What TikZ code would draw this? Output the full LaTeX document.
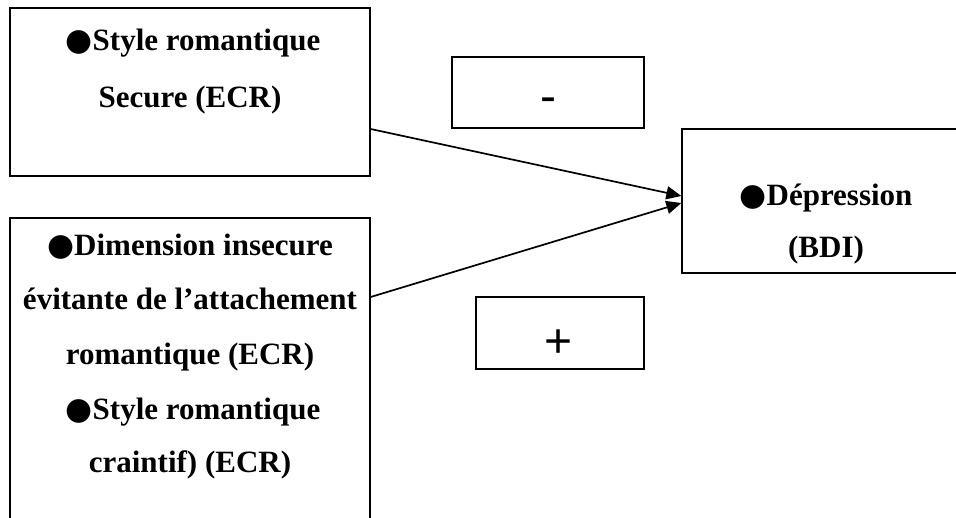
\documentclass[tikz,border=0pt]{standalone}
\usepackage{fontspec}
\setmainfont{Liberation Serif}
\newfontfamily\arialfont{Liberation Sans}
\newfontfamily\djvfont{DejaVu Sans}
\newcommand\bdot{{\djvfont\fontsize{31}{31}\selectfont ●}}
\usetikzlibrary{arrows.meta}
\begin{document}
\begin{tikzpicture}[x=1pt,y=-1pt,
  box/.style={draw=black,line width=1.3pt,rectangle,inner sep=0pt},
  lbl/.style={anchor=base,inner sep=0pt,font=\fontsize{31}{36}\selectfont\bfseries},
  sign/.style={anchor=base,inner sep=0pt,font=\arialfont\fontsize{48}{56}\selectfont},
  conn/.style={line width=1.7pt,-{Triangle[length=15pt,width=13pt]}}]
\useasboundingbox (0,0) rectangle (956,517);
\clip (0,0) rectangle (956,517);
% boxes
\node[box,minimum width=360pt,minimum height=168pt] (b1) at (190,92) {};
\node[box,minimum width=360pt,minimum height=312pt] (b2) at (190,374) {};
\node[box,minimum width=288pt,minimum height=144pt] (dep) at (826,201) {};
\node[box,minimum width=192pt,minimum height=71pt] (minus) at (548,92.5) {};
\node[box,minimum width=168pt,minimum height=72pt] (plus) at (560,333) {};
% texts
\node[lbl] (t11) at (193,50) {\bdot Style romantique};
\node[lbl] (t12) at (190,107) {Secure (ECR)};
\node[lbl] (t21) at (190,255) {\bdot Dimension insecure};
\node[lbl] (t22) at (190,309) {évitante de l’attachement};
\node[lbl] (t23) at (190,364) {romantique (ECR)};
\node[lbl] (t24) at (193,419) {\bdot Style romantique};
\node[lbl] (t25) at (190,472) {craintif) (ECR)};
\node[lbl] (t31) at (826,205) {\bdot Dépression};
\node[lbl] (t32) at (826,257) {(BDI)};
\node[sign] (sm) at (548,112) {-};
\node[sign] (sp) at (559,357) {+};
% connectors
\draw[conn] ([yshift=-37pt]b1.east) -- ([yshift=5pt]dep.west);
\draw[conn] ([yshift=77pt]b2.east) -- ([yshift=-2pt]dep.west);
\end{tikzpicture}
\end{document}
